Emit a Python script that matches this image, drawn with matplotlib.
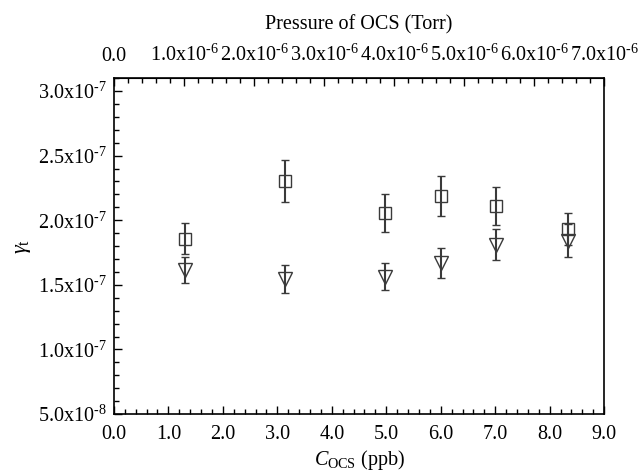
import matplotlib
matplotlib.use("Agg")
import matplotlib.pyplot as plt
from matplotlib.ticker import MultipleLocator, FixedLocator
import numpy as np

plt.rcParams['font.family'] = ['Liberation Serif', 'DejaVu Serif']
plt.rcParams['mathtext.fontset'] = 'custom'
plt.rcParams['mathtext.rm'] = 'Liberation Serif'
plt.rcParams['mathtext.it'] = 'Liberation Serif:italic'
plt.rcParams['font.size'] = 14.5

# data
c_ocs = [1.30, 3.14, 4.98, 6.00, 7.02, 8.34]
gamma_sq = [1.857e-7, 2.302e-7, 2.054e-7, 2.186e-7, 2.108e-7, 1.930e-7]
err_sq = [1.2e-8, 1.63e-8, 1.47e-8, 1.55e-8, 1.47e-8, 1.25e-8]
gamma_tri = [1.613e-7, 1.547e-7, 1.563e-7, 1.667e-7, 1.810e-7, 1.841e-7]
err_tri = [1.0e-8, 1.08e-8, 1.04e-8, 1.16e-8, 1.2e-8, 1.29e-8]

x_ticks = [0, 1, 2, 3, 4, 5, 6, 7, 8, 9]
y_ticks = [5e-8, 1e-7, 1.5e-7, 2e-7, 2.5e-7, 3e-7]
y_labels = ["5.0x10$^{\u2010 8}$", "1.0x10$^{\u2010 7}$", "1.5x10$^{\u2010 7}$",
            "2.0x10$^{\u2010 7}$", "2.5x10$^{\u2010 7}$", "3.0x10$^{\u2010 7}$"]
p_ticks = [0, 1e-6, 2e-6, 3e-6, 4e-6, 5e-6, 6e-6, 7e-6]
p_labels = ["0.0"] + ["%d.0x10$^{\u2010 6}$" % i for i in range(1, 8)]

torr_per_ppb = 7e-6 / 9.0

fig = plt.figure(figsize=(6.4, 4.76), dpi=100)
ax = fig.add_axes([0.178, 0.130, 0.766, 0.706])

ec = '#3a3a3a'
ax.errorbar(c_ocs, gamma_sq, yerr=err_sq, fmt='s', ms=8.5, mfc='none', mec=ec,
            mew=1.0, ecolor=ec, elinewidth=1.5, capsize=3, capthick=1.5)
ax.errorbar(c_ocs, gamma_tri, yerr=err_tri, fmt='v', ms=10.5, mfc='none', mec=ec,
            mew=1.0, ecolor=ec, elinewidth=1.5, capsize=3, capthick=1.5)

ax.set_xlim(0, 9)
ax.set_ylim(5e-8, 3.1e-7)
ax.set_xticks(x_ticks)
ax.set_xticklabels(["%.1f" % v for v in x_ticks])
ax.set_yticks(y_ticks)
ax.set_yticklabels(y_labels)
ax.xaxis.set_minor_locator(MultipleLocator(0.2))
ax.yaxis.set_minor_locator(MultipleLocator(1e-8))
ax.tick_params(which='both', direction='in', right=False, top=False, width=1)
ax.tick_params(which='major', length=6)
ax.tick_params(which='minor', length=3.5)
ax.tick_params(axis='x', pad=8)
ax.tick_params(axis='y', pad=5)
for s in ax.spines.values():
    s.set_linewidth(1.2)

ax.set_xlabel(r"$C_{\rm OCS}$ (ppb)", labelpad=3)
ax.set_ylabel(r"$\gamma_{\rm t}$", labelpad=4, fontsize=16)

sec = ax.secondary_xaxis('top', functions=(lambda x: x * torr_per_ppb,
                                           lambda p: p / torr_per_ppb))
sec.xaxis.set_major_locator(FixedLocator(p_ticks))
sec.set_xticklabels(p_labels)
sec.xaxis.set_minor_locator(MultipleLocator(2e-7))
sec.tick_params(which='both', direction='in', width=1)
sec.tick_params(which='major', length=6, pad=9)
sec.tick_params(which='minor', length=3.5)
sec.set_xlabel("Pressure of OCS (Torr)", labelpad=11)

fig.savefig("out.png", dpi=100)
